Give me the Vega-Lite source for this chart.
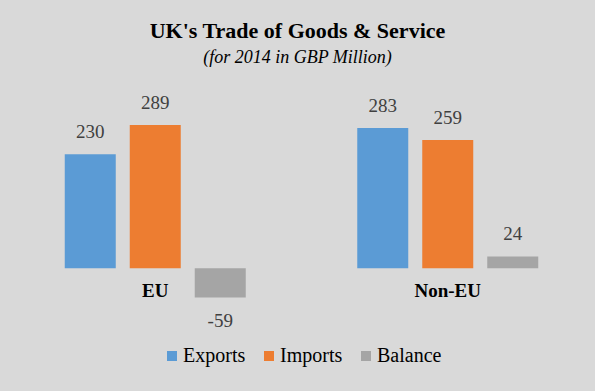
{
  "$schema": "https://vega.github.io/schema/vega-lite/v6.json",
  "width": 585,
  "height": 228,
  "autosize": {"type": "none"},
  "padding": {"left": 9, "top": 80, "right": 1, "bottom": 83},
  "background": "#d9d9d9",
  "title": {
    "text": "UK's Trade of Goods & Service",
    "subtitle": "(for 2014 in GBP Million)",
    "font": "Liberation Serif",
    "fontSize": 22,
    "fontWeight": "bold",
    "color": "#000000",
    "subtitleFont": "Liberation Serif",
    "subtitleFontSize": 18,
    "subtitleFontStyle": "italic",
    "subtitleColor": "#000000",
    "anchor": "middle",
    "dx": -4,
    "offset": 12,
    "subtitlePadding": 6
  },
  "data": {
    "values": [
      {"region": "EU", "series": "Exports", "value": 230},
      {"region": "EU", "series": "Imports", "value": 289},
      {"region": "EU", "series": "Balance", "value": -59},
      {"region": "Non-EU", "series": "Exports", "value": 283},
      {"region": "Non-EU", "series": "Imports", "value": 259},
      {"region": "Non-EU", "series": "Balance", "value": 24}
    ]
  },
  "encoding": {
    "x": {"field": "region", "type": "nominal", "sort": ["EU", "Non-EU"], "scale": {"paddingInner": 0, "paddingOuter": 0}, "axis": null},
    "y": {"field": "value", "type": "quantitative", "scale": {"domain": [-80, 380], "nice": false, "zero": true}, "axis": null}
  },
  "layer": [
    {
      "mark": {"type": "bar"},
      "encoding": {
        "xOffset": {"field": "series", "type": "nominal", "sort": ["Exports", "Imports", "Balance"], "scale": {"paddingInner": 0.2154, "paddingOuter": 0.8577}},
        "color": {
          "field": "series",
          "type": "nominal",
          "sort": ["Exports", "Imports", "Balance"],
          "scale": {"domain": ["Exports", "Imports", "Balance"], "range": ["#5b9bd5", "#ed7d31", "#a5a5a5"]},
          "legend": {
            "orient": "none",
            "legendX": 153,
            "legendY": 266,
            "direction": "horizontal",
            "title": null,
            "symbolType": "square",
            "symbolSize": 100,
            "symbolStrokeWidth": 0,
            "labelFont": "Liberation Serif",
            "labelFontSize": 20,
            "labelColor": "#000000",
            "columnPadding": 13,
            "labelOffset": 1,
            "padding": 0
          }
        }
      }
    },
    {
      "transform": [{"filter": "datum.value >= 0"}],
      "mark": {"type": "text", "dy": -16, "baseline": "alphabetic", "font": "Liberation Serif", "fontSize": 19, "color": "#404040"},
      "encoding": {
        "xOffset": {"field": "series", "type": "nominal", "sort": ["Exports", "Imports", "Balance"]},
        "text": {"field": "value", "type": "quantitative"}
      }
    },
    {
      "transform": [{"filter": "datum.value < 0"}],
      "mark": {"type": "text", "dy": 29, "baseline": "alphabetic", "font": "Liberation Serif", "fontSize": 19, "color": "#404040"},
      "encoding": {
        "xOffset": {"field": "series", "type": "nominal", "sort": ["Exports", "Imports", "Balance"]},
        "text": {"field": "value", "type": "quantitative"}
      }
    },
    {
      "transform": [{"filter": "datum.series === 'Imports'"}],
      "mark": {"type": "text", "dy": 23, "baseline": "middle", "font": "Liberation Serif", "fontSize": 19, "fontWeight": "bold", "color": "#000000"},
      "encoding": {
        "y": {"datum": 0, "type": "quantitative"},
        "text": {"field": "region", "type": "nominal"}
      }
    }
  ],
  "config": {
    "view": {"stroke": null},
    "locale": {"number": {"decimal": ".", "thousands": ",", "grouping": [3], "currency": ["$", ""], "minus": "-"}}
  }
}
